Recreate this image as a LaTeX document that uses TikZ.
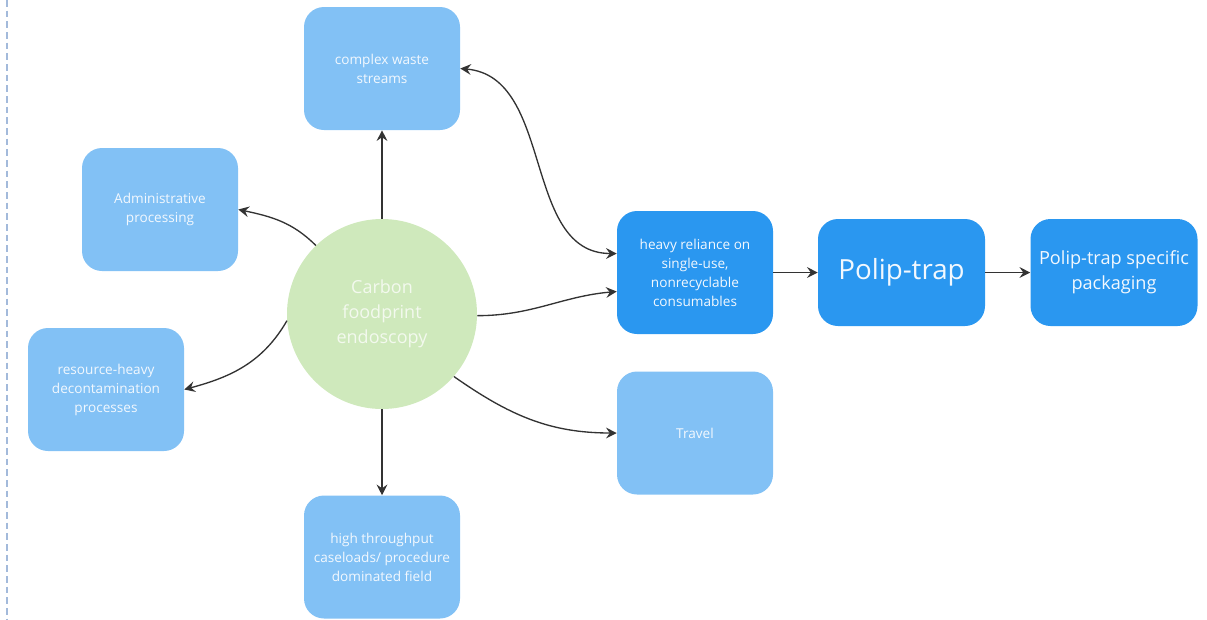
\documentclass[tikz,border=0pt]{standalone}
\usepackage{fontspec}
\setmainfont{Open Sans}
\usetikzlibrary{arrows.meta}
\definecolor{lightbox}{HTML}{82C1F5}
\definecolor{darkbox}{HTML}{2A97F0}
\definecolor{circ}{HTML}{CFE9BC}
\definecolor{edge}{HTML}{333333}
\definecolor{dashc}{HTML}{A3BADB}
\definecolor{boxtext}{HTML}{F2F8FE}
\definecolor{circtext}{HTML}{F3F9EE}
\begin{document}
\begin{tikzpicture}[x=0.75pt,y=0.75pt,
  box/.style={rounded corners=15pt, minimum width=117pt, minimum height=92.25pt,
    align=center, text=boxtext, font=\fontsize{10.2}{14.25}\selectfont, inner sep=2pt},
  lbox/.style={box, fill=lightbox},
  dbox/.style={box, fill=darkbox},
  tip/.tip={Stealth[length=8pt,width=8pt,inset=2.8pt]},
  conn/.style={draw=edge, line width=1pt, -tip},
]
\useasboundingbox (0,0) rectangle (1207,-619);
\draw[dashc, line width=1.3pt, dash pattern=on 5pt off 3pt] (7,0) -- (7,-619);

\node[lbox] (waste) at (382,-68.5) {complex waste\\streams};
\node[lbox] (admin) at (160,-209.5) {Administrative\\processing};
\node[lbox] (decon) at (106,-389.5) {resource-heavy\\decontamination\\processes};
\node[lbox] (high) at (382,-557) {high throughput\\caseloads/ procedure\\dominated field};
\node[circle, fill=circ, minimum size=142.5pt, inner sep=0pt, align=center,
  text=circtext, font=\fontsize{13.5}{18.75}\selectfont] (core) at (382,-314) {Carbon\\foodprint\\endoscopy};
\node[dbox] (heavy) at (695,-272.5) {heavy reliance on\\single-use,\\nonrecyclable\\consumables};
\node[dbox, minimum width=125.25pt, minimum height=80.25pt,
  font=\fontsize{20.8}{24}\selectfont] (polip) at (901.5,-272.5) {Polip-trap};
\node[dbox, minimum width=125.25pt, minimum height=80.25pt,
  font=\fontsize{13.6}{18.5}\selectfont] (pack) at (1114,-272.5) {Polip-trap specific\\packaging};
\node[lbox] (travel) at (695,-433) {Travel};

\draw[conn] (core.north) -- (waste.south);
\draw[conn] (core.south) -- (high.north);
\draw[conn] (core.134) to[out=135,in=-12] (admin.east);
\draw[conn] (core.184) to[out=240,in=15] (decon.east);
\draw[conn] (core.-1) to[out=0,in=185] ([yshift=-14.25pt]heavy.west);
\draw[conn] (core.-41) to[out=-35,in=180] (travel.west);
\draw[draw=edge, line width=1pt, tip-tip] (waste.east) to[out=-5,in=180] ([yshift=14.25pt]heavy.west);
\draw[conn] (heavy) -- (polip);
\draw[conn] (polip) -- (pack);
\end{tikzpicture}
\end{document}
